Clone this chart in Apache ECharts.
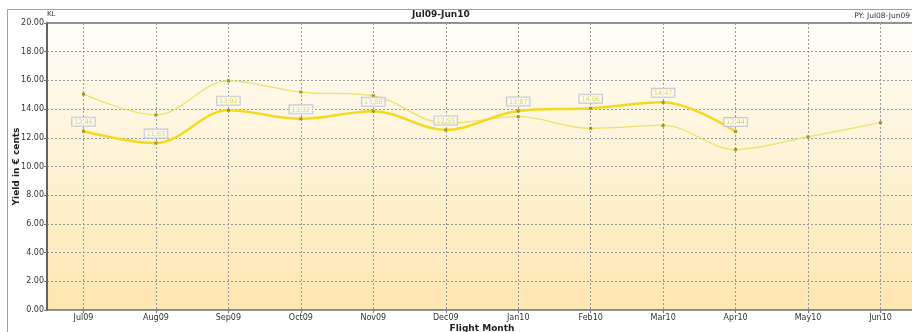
<!DOCTYPE html>
<html>
<head>
<meta charset="utf-8">
<script src="https://cdn.jsdelivr.net/npm/echarts@6/dist/echarts.min.js"></script>
<style>
  html, body { margin: 0; padding: 0; background: #fff; }
  #chart { width: 912px; height: 332px; }
</style>
</head>
<body>
<div id="chart"></div>
<script>
// Flight months on the x axis
var months = ['Jul09', 'Aug09', 'Sep09', 'Oct09', 'Nov09', 'Dec09', 'Jan10', 'Feb10', 'Mar10', 'Apr10', 'May10', 'Jun10'];
// Current period yield (euro cents), labelled
var yieldCurrent = [12.46, 11.63, 13.92, 13.32, 13.85, 12.55, 13.87, 14.06, 14.47, 12.44, null, null];
// Previous-year yield (Jul08-Jun09)
var yieldPrevYear = [15.05, 13.59, 15.97, 15.19, 14.93, 13.00, 13.47, 12.66, 12.86, 11.18, 12.07, 13.05];
// Y axis range
var yMin = 0, yMax = 20, yStep = 2;

var FONT = 'DejaVu Sans';
var chart = echarts.init(document.getElementById('chart'), null, { renderer: 'canvas' });

var dashed = { show: true, lineStyle: { color: '#9a9a9a', type: [2, 2], width: 1 } };

chart.setOption({
  animation: false,
  backgroundColor: '#ffffff',
  graphic: [
    { type: 'rect', silent: true, z: -10,
      shape: { x: 7.5, y: 9.5, width: 920, height: 340 },
      style: { fill: 'none', stroke: '#a0a0a0', lineWidth: 1 } },
    { type: 'text', left: 412, top: 10,
      style: { text: 'Jul09-Jun10', font: 'bold 9px ' + FONT, fill: '#222' } },
    { type: 'text', left: 47, top: 11,
      style: { text: 'KL', font: '7px ' + FONT, fill: '#333' } },
    { type: 'text', right: 2, top: 12,
      style: { text: 'PY: Jul08-Jun09', font: '7.5px ' + FONT, fill: '#333' } }
  ],
  grid: [
    { left: 47, right: -6, top: 23, bottom: 22, show: true, outerBoundsMode: 'none',
      borderColor: '#6a6a6a', borderWidth: 1.5,
      backgroundColor: new echarts.graphic.LinearGradient(0, 0, 0, 1, [
        { offset: 0, color: '#fffefa' },
        { offset: 0.35, color: '#fff6df' },
        { offset: 1, color: '#fee6b0' }
      ]) },
    { left: 83.5, right: 31.5, top: 23, bottom: 22, outerBoundsMode: 'none' }
  ],
  xAxis: [
    { type: 'category', gridIndex: 0, data: months, show: false },
    { type: 'category', gridIndex: 1, data: months, boundaryGap: false,
      axisLine: { show: false },
      axisTick: { show: true, length: 3, lineStyle: { color: '#777' } },
      axisLabel: { fontFamily: FONT, fontSize: 8, color: '#333', margin: 4 },
      splitLine: dashed,
      name: 'Flight Month', nameLocation: 'middle', nameGap: 14, nameMoveOverlap: false,
      nameTextStyle: { fontFamily: FONT, fontSize: 9, fontWeight: 'bold', color: '#222' } }
  ],
  yAxis: [
    { type: 'value', gridIndex: 0, min: yMin, max: yMax, interval: yStep,
      axisLine: { show: true, lineStyle: { color: '#555', width: 1.5 } },
      axisTick: { show: true, length: 3, lineStyle: { color: '#777' } },
      axisLabel: { fontFamily: FONT, fontSize: 8, color: '#333', margin: 3,
        formatter: function (v) { return v.toFixed(2); } },
      splitLine: dashed,
      name: 'Yield in € cents', nameLocation: 'middle', nameGap: 26, nameRotate: 90,
      nameMoveOverlap: false,
      nameTextStyle: { fontFamily: FONT, fontSize: 9, fontWeight: 'bold', color: '#222' } },
    { type: 'value', gridIndex: 1, min: yMin, max: yMax, interval: yStep, show: false }
  ],
  series: [
    { name: 'PY', type: 'line', xAxisIndex: 1, yAxisIndex: 1, data: yieldPrevYear,
      smooth: 0.35, symbol: 'rect', symbolSize: 3,
      lineStyle: { color: '#eee068', width: 1.3 },
      itemStyle: { color: '#9a9a28' } },
    { name: 'Current', type: 'line', xAxisIndex: 1, yAxisIndex: 1, data: yieldCurrent,
      smooth: 0.35, symbol: 'rect', symbolSize: 3, z: 3,
      lineStyle: { color: '#f4da1e', width: 2.5 },
      itemStyle: { color: '#9a9a28' },
      label: { show: true, position: 'top', distance: 4,
        formatter: function (p) { return p.value.toFixed(2); },
        fontFamily: FONT, fontSize: 6.5, color: '#d6d662',
        backgroundColor: 'rgba(255,255,245,0.7)', borderColor: '#c9c6d2', borderWidth: 1,
        padding: [1, 2, 0, 2] } }
  ]
});
</script>
</body>
</html>
